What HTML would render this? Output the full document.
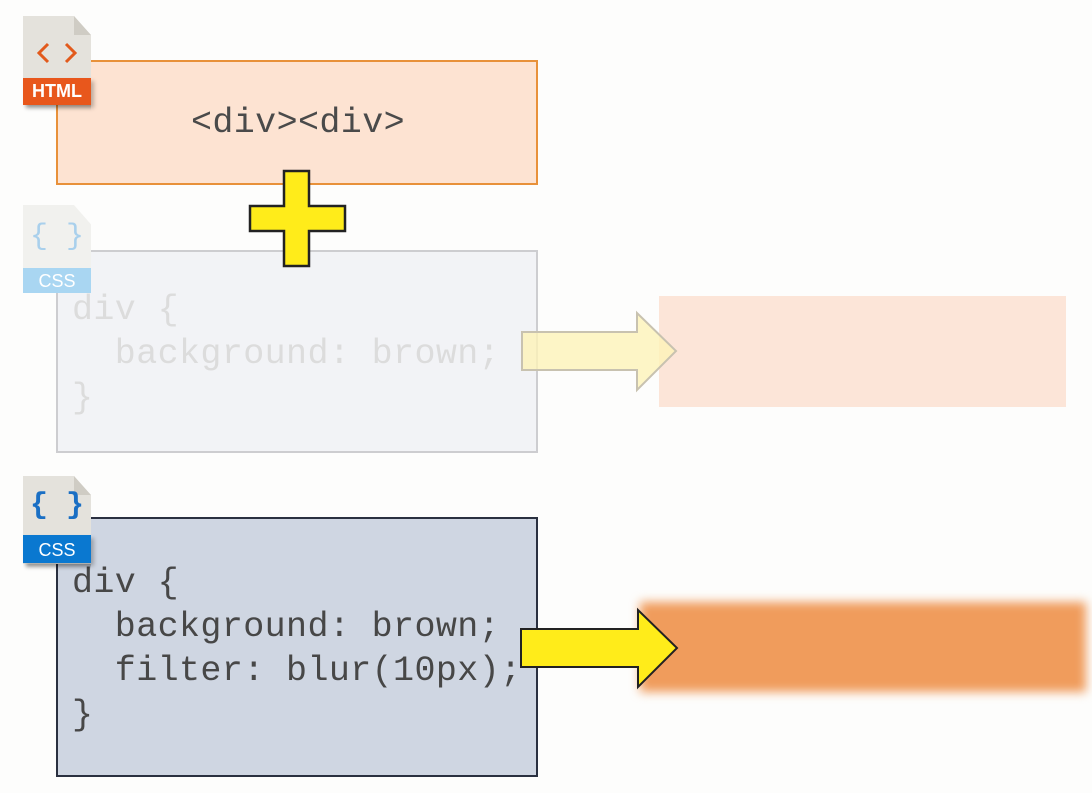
<!DOCTYPE html>
<html><head><meta charset="utf-8"><style>
body{margin:0;width:1092px;height:793px;background:#fdfdfc;position:relative;overflow:hidden;font-family:"Liberation Sans",sans-serif}
.a{position:absolute;box-sizing:border-box}
.mono{font-family:"Liberation Mono","DejaVu Sans Mono",monospace;font-size:35px;white-space:pre;line-height:44px;letter-spacing:0.4px}
.icon{position:absolute;width:68px;height:88px;box-shadow:3px 3px 4px rgba(0,0,0,.25)}
</style></head><body>
<div class="a" style="left:56px;top:60px;width:482px;height:125px;background:#fde3d2;border:2px solid #e8913a"></div>
<div class="a mono" style="left:56px;top:101px;width:484px;text-align:center;color:#4a4a4a">&lt;div&gt;&lt;div&gt;</div>

<div class="a" style="left:56px;top:250px;width:482px;height:203px;background:#f2f3f6;border:2px solid #cdcdd0"></div>
<div class="a mono" style="left:72px;top:288px;color:#dcdcdc">div {
  background: brown;
}</div>

<div class="a" style="left:56px;top:517px;width:482px;height:260px;background:#cfd6e2;border:2px solid #2a3040"></div>
<div class="a mono" style="left:72px;top:561px;color:#474747">div {
  background: brown;
  filter: blur(10px);
}</div>

<div class="a" style="left:659px;top:296px;width:407px;height:111px;background:#fce5d8"></div>
<div class="a" style="left:640px;top:602px;width:446px;height:90px;background:#f09c5c;filter:blur(5px)"></div>

<svg class="a" style="left:0;top:0" width="1092" height="793">
 <path d="M284 171H309V206H345V231H309V266H284V231H250V206H284Z" fill="#ffec1a" stroke="#222" stroke-width="2.5"/>
 <path d="M522 332H637V313L676 351L637 390V370H522Z" fill="#fdf3b8" fill-opacity="0.8" stroke="#c8c2b0" stroke-width="2"/>
 <path d="M521 629H638V610L677 648L638 687V667H521Z" fill="#ffec1a" stroke="#222" stroke-width="2"/>
</svg>

<div class="icon" style="left:23px;top:16px;background:#e4e2dc;clip-path:polygon(0 0,75% 0,100% 22%,100% 110%,0 110%)"></div>
<div class="a" style="left:74px;top:16px;width:17px;height:19px;background:#cfccc4;clip-path:polygon(0 0,100% 100%,0 100%)"></div>
<div class="a" style="left:23px;top:78px;width:68px;height:27px;background:#e8571c;color:#fff;font-weight:bold;font-size:18px;text-align:center;line-height:27px;box-shadow:3px 3px 4px rgba(0,0,0,.25)">HTML</div>
<svg class="a" style="left:23px;top:16px" width="68" height="60">
 <path d="M25 28L16 37L25 46M43 28L52 37L43 46" fill="none" stroke="#e25a1c" stroke-width="3"/>
</svg>

<div class="a" style="left:23px;top:205px;width:68px;height:88px;background:#f1f1ee;clip-path:polygon(0 0,75% 0,100% 22%,100% 100%,0 100%)"></div>
<div class="a" style="left:23px;top:268px;width:68px;height:25px;background:#a9d6f2;color:#fff;font-size:18px;text-align:center;line-height:26px">CSS</div>
<div class="a" style="left:23px;top:220px;width:68px;text-align:center;color:#a9d0ec;font-size:30px;font-family:'Liberation Mono',monospace">{ }</div>

<div class="icon" style="left:23px;top:476px;background:#e4e2dc;clip-path:polygon(0 0,75% 0,100% 22%,100% 110%,0 110%)"></div>
<div class="a" style="left:74px;top:476px;width:17px;height:19px;background:#cfccc4;clip-path:polygon(0 0,100% 100%,0 100%)"></div>
<div class="a" style="left:23px;top:535px;width:68px;height:28px;background:#0a78d0;color:#fff;font-size:18px;text-align:center;line-height:30px;box-shadow:3px 3px 4px rgba(0,0,0,.25)">CSS</div>
<div class="a" style="left:23px;top:489px;width:68px;text-align:center;color:#1a6fc4;font-size:30px;font-weight:bold;font-family:'Liberation Mono',monospace">{ }</div>
</body></html>
